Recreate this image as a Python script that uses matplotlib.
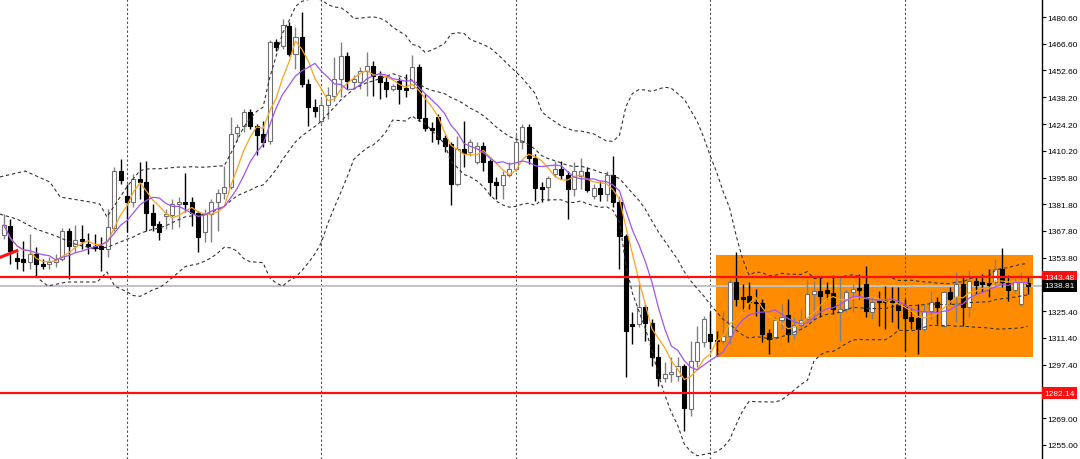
import matplotlib
matplotlib.use("Agg")
import matplotlib.pyplot as plt
import matplotlib.transforms as mtrans
from matplotlib.patches import Rectangle
import numpy as np
import pandas as pd

plt.rcParams['font.family'] = ['Liberation Sans', 'DejaVu Sans']

# candle data
opens = [1365.7, 1370.4, 1353.6, 1353.0, 1351.4, 1355.7, 1350.4, 1350.4, 1351.4, 1353.0,
         1367.8, 1359.9, 1363.6, 1360.9, 1359.9, 1359.9, 1358.3, 1369.4, 1399.4, 1386.2,
         1383.1, 1395.2, 1393.6, 1377.3, 1371.5, 1375.7, 1376.2, 1382.0, 1383.1, 1383.1,
         1377.3, 1367.3, 1376.7, 1383.1, 1387.8, 1391.0, 1419.5, 1423.1, 1430.5, 1423.1,
         1418.9, 1415.2, 1467.4, 1465.3, 1475.9, 1461.1, 1470.1, 1445.3, 1433.2, 1425.8,
         1434.2, 1439.0, 1447.9, 1460.0, 1446.3, 1446.3, 1452.1, 1454.8, 1449.5, 1446.3,
         1442.7, 1446.9, 1443.2, 1443.2, 1454.2, 1427.4, 1422.1, 1427.9, 1416.8, 1413.7,
         1392.6, 1411.0, 1409.4, 1404.2, 1412.6, 1404.7, 1393.6, 1392.1, 1397.3, 1400.5,
         1414.7, 1422.6, 1406.3, 1391.0, 1391.0, 1397.8, 1400.5, 1397.3, 1389.9, 1396.8,
         1398.9, 1386.2, 1390.5, 1387.3, 1397.3, 1383.1, 1365.2, 1318.8, 1318.8, 1327.7,
         1319.3, 1301.4, 1290.3, 1292.4, 1291.3, 1296.6, 1273.9, 1299.2, 1309.3, 1313.5,
         1310.3, 1309.8, 1312.4, 1340.9, 1333.0, 1333.5, 1330.4, 1329.8, 1314.0, 1311.9,
         1320.9, 1323.5, 1313.5, 1318.2, 1321.4, 1334.6, 1336.2, 1336.7, 1335.1, 1325.1,
         1326.7, 1335.6, 1337.7, 1339.9, 1325.1, 1330.9, 1330.9, 1330.9, 1329.3, 1327.7,
         1322.4, 1321.9, 1316.1, 1325.6, 1330.4, 1317.7, 1335.6, 1333.0, 1339.9, 1327.7,
         1341.4, 1340.9, 1340.4, 1340.9, 1347.8, 1340.4, 1336.7, 1329.3, 1340.4]
highs = [1376.7, 1374.1, 1356.7, 1362.5, 1366.2, 1359.3, 1353.0, 1354.1, 1355.7, 1369.4,
         1369.4, 1370.9, 1370.9, 1366.7, 1366.2, 1364.6, 1379.4, 1401.5, 1405.7, 1392.6,
         1397.8, 1404.2, 1404.7, 1382.0, 1373.1, 1379.4, 1384.7, 1385.7, 1398.4, 1385.7,
         1378.3, 1379.4, 1384.7, 1389.9, 1402.1, 1427.9, 1424.2, 1432.1, 1432.1, 1424.2,
         1425.8, 1468.5, 1469.0, 1479.6, 1478.0, 1475.3, 1483.2, 1447.9, 1437.4, 1437.4,
         1443.7, 1459.5, 1467.4, 1462.2, 1450.0, 1454.2, 1462.2, 1457.4, 1452.1, 1449.5,
         1445.3, 1449.0, 1450.6, 1460.6, 1455.8, 1440.0, 1425.2, 1429.5, 1418.4, 1414.7,
         1417.9, 1425.8, 1416.3, 1414.7, 1414.7, 1405.7, 1396.3, 1399.4, 1404.2, 1418.9,
         1424.2, 1424.2, 1408.4, 1393.6, 1396.8, 1404.7, 1404.7, 1399.4, 1404.2, 1406.3,
         1401.5, 1392.6, 1394.2, 1399.4, 1407.3, 1385.7, 1366.2, 1325.1, 1339.9, 1329.3,
         1321.4, 1308.2, 1298.7, 1301.4, 1301.4, 1297.7, 1309.8, 1317.7, 1323.0, 1325.6,
         1315.1, 1325.6, 1342.5, 1356.7, 1339.9, 1340.9, 1337.2, 1331.9, 1316.1, 1322.4,
         1329.3, 1331.9, 1322.4, 1326.7, 1342.5, 1341.4, 1343.5, 1340.9, 1343.5, 1343.5,
         1337.2, 1339.9, 1345.1, 1349.3, 1333.5, 1336.2, 1338.8, 1338.3, 1338.3, 1331.9,
         1326.7, 1329.3, 1329.3, 1336.2, 1333.0, 1336.2, 1338.3, 1346.2, 1344.1, 1347.2,
         1344.1, 1345.1, 1347.8, 1353.0, 1358.8, 1344.6, 1344.1, 1346.2, 1344.1]
lows = [1363.6, 1350.4, 1347.8, 1346.7, 1347.8, 1343.5, 1347.8, 1347.8, 1348.8, 1352.0,
        1342.5, 1356.7, 1358.3, 1355.7, 1357.2, 1346.7, 1354.1, 1367.8, 1392.6, 1367.3,
        1380.5, 1384.7, 1367.8, 1367.8, 1363.0, 1368.8, 1368.8, 1369.9, 1377.8, 1370.4,
        1356.7, 1362.0, 1362.0, 1367.8, 1384.7, 1389.9, 1415.2, 1420.0, 1421.6, 1407.9,
        1412.1, 1413.7, 1462.7, 1463.7, 1460.0, 1453.2, 1443.7, 1423.1, 1427.9, 1424.2,
        1426.8, 1436.3, 1438.4, 1442.7, 1442.7, 1442.7, 1439.0, 1439.0, 1437.4, 1438.4,
        1441.6, 1434.7, 1438.4, 1442.7, 1425.8, 1420.5, 1414.7, 1413.7, 1409.4, 1381.5,
        1391.5, 1401.5, 1407.3, 1403.1, 1399.4, 1386.2, 1384.7, 1384.7, 1396.3, 1399.4,
        1411.0, 1403.1, 1383.6, 1383.1, 1383.6, 1396.3, 1395.2, 1374.1, 1386.2, 1389.9,
        1388.3, 1384.7, 1383.6, 1383.6, 1380.5, 1347.8, 1290.8, 1308.2, 1317.2, 1309.8,
        1296.6, 1286.1, 1288.2, 1288.2, 1288.7, 1262.3, 1270.3, 1296.1, 1306.6, 1305.6,
        1301.9, 1308.2, 1308.2, 1328.3, 1325.6, 1326.7, 1323.0, 1309.3, 1302.9, 1310.8,
        1316.1, 1309.3, 1310.8, 1316.1, 1320.3, 1320.3, 1322.4, 1331.9, 1324.0, 1309.8,
        1325.1, 1325.1, 1331.9, 1322.4, 1321.4, 1317.7, 1316.1, 1319.8, 1316.1, 1304.5,
        1316.1, 1302.9, 1315.1, 1321.4, 1318.8, 1317.2, 1329.3, 1319.8, 1317.7, 1322.4,
        1334.6, 1335.6, 1333.0, 1339.3, 1338.3, 1330.9, 1335.1, 1328.3, 1334.6]
closes = [1370.9, 1357.2, 1352.0, 1351.4, 1355.7, 1350.4, 1349.3, 1351.4, 1353.0, 1367.8,
          1359.9, 1363.0, 1362.5, 1359.9, 1358.8, 1358.3, 1369.9, 1399.4, 1394.7, 1383.1,
          1395.2, 1393.6, 1377.3, 1370.9, 1367.3, 1376.7, 1382.0, 1383.1, 1382.0, 1377.3,
          1364.6, 1376.7, 1383.1, 1387.8, 1391.0, 1418.9, 1422.6, 1430.5, 1423.1, 1418.4,
          1414.7, 1467.4, 1464.8, 1476.4, 1461.1, 1470.1, 1445.3, 1433.2, 1431.1, 1434.2,
          1439.5, 1447.9, 1460.0, 1446.9, 1447.9, 1452.1, 1454.8, 1449.5, 1446.3, 1442.7,
          1444.2, 1442.7, 1442.1, 1454.2, 1427.4, 1422.1, 1421.0, 1416.3, 1412.6, 1392.6,
          1411.0, 1408.9, 1414.7, 1412.6, 1404.2, 1393.6, 1392.1, 1397.3, 1400.5, 1414.7,
          1422.6, 1406.3, 1390.5, 1389.9, 1395.7, 1400.5, 1397.3, 1389.9, 1399.4, 1399.4,
          1389.4, 1390.5, 1387.3, 1397.3, 1383.1, 1365.2, 1315.1, 1317.7, 1327.7, 1319.3,
          1301.4, 1290.3, 1292.4, 1293.4, 1296.6, 1274.5, 1299.2, 1309.3, 1321.4, 1309.8,
          1309.8, 1312.4, 1340.9, 1331.9, 1331.9, 1330.4, 1329.8, 1313.5, 1310.8, 1320.9,
          1322.4, 1313.5, 1318.2, 1320.9, 1334.6, 1336.2, 1333.5, 1335.1, 1326.7, 1326.7,
          1335.6, 1337.2, 1336.7, 1325.6, 1330.4, 1330.4, 1330.4, 1329.8, 1326.1, 1321.9,
          1320.3, 1316.1, 1325.6, 1330.4, 1327.7, 1335.6, 1331.9, 1339.9, 1327.7, 1341.4,
          1339.3, 1339.9, 1339.3, 1347.8, 1340.9, 1336.7, 1340.9, 1340.9, 1338.81]

# band values before the 20-bar window fills
head_up_idx = [-0.6, 3.3, 7.1, 8.7, 13.3, 14.8, 15.9]
head_up_val = [1396.3, 1399.4, 1393.6, 1385.7, 1383.1, 1382.0, 1375.2]
head_mid_idx = [-0.6, 2, 5, 8, 11, 14, 16]
head_mid_val = [1376.7, 1374.1, 1368.8, 1365.2, 1360.9, 1358.3, 1359.3]
head_low_idx = [4.8, 6.8, 9.7, 14.4, 15.9, 17.1]
head_low_val = [1344.1, 1338.8, 1340.9, 1340.9, 1346.2, 1338.8]

separators = [19, 49, 79, 109, 139]
resistance = 1343.48
support = 1282.14
bid = 1338.81
box_idx = [109.9, 158.8]
box_price = [1301.4, 1355.3]
arrow_idx = [-0.6, 2.0]
arrow_price = [1353.9, 1357.4]

ytick_vals = [1480.60, 1466.60, 1452.60, 1438.20, 1424.20, 1410.20, 1395.80, 1381.80,
              1367.80, 1353.80, 1325.40, 1311.40, 1297.40, 1269.00, 1255.00]

o = np.array(opens); h = np.array(highs); l = np.array(lows); c = np.array(closes)
x = np.arange(len(c))
s = pd.Series(c)
ma_fast = s.rolling(5, min_periods=1).mean()
ma_slow = s.rolling(8, min_periods=1).mean()
mid = s.rolling(20).mean()
sd = s.rolling(20).std(ddof=0)
upper = mid + 2 * sd
lower = mid - 2 * sd

fig = plt.figure(figsize=(10.8, 4.6), dpi=100)
ax = fig.add_axes([0, 0, 1042 / 1080, 1])
ax.set_xlim(-0.6, 160.2)
ax.set_ylim(1247.6, 1490.1)

ax.add_patch(Rectangle((box_idx[0], box_price[0]), box_idx[1] - box_idx[0],
                       box_price[1] - box_price[0], color='#ff8c00', lw=0, zorder=0.5))

for sx in separators:
    ax.axvline(sx, color='#505050', lw=0.8, ls=(0, (2, 2)), zorder=1)

ax.axhline(bid, color='#c0c4c8', lw=1.4, zorder=1.5)

# candles
up = c >= o
wick_col = np.where(up, '#808080', 'black')
ax.vlines(x, l, h, colors=wick_col, lw=1.0, zorder=3)
body_low = np.minimum(o, c)
body_h = np.maximum(np.abs(c - o), 0.5)
ax.bar(x[up], body_h[up], bottom=body_low[up], width=0.62, facecolor='white',
       edgecolor='#707070', lw=0.8, zorder=4)
ax.bar(x[~up], body_h[~up], bottom=body_low[~up], width=0.62, facecolor='black',
       edgecolor='black', lw=0.8, zorder=4)

# bollinger bands
dash = (0, (3, 2.5))
for hi, hv, ser in [(head_up_idx, head_up_val, upper),
                    (head_mid_idx, head_mid_val, mid),
                    (head_low_idx, head_low_val, lower)]:
    xx = list(hi) + list(x[19:])
    yy = list(hv) + list(ser.values[19:])
    ax.plot(xx, yy, color='#333333', lw=0.8, ls=dash, zorder=5)

ax.plot(x, ma_fast, color='#ffa21f', lw=0.9, zorder=6)
ax.plot(x, ma_slow, color='#a055f5', lw=0.9, zorder=6)

ax.axhline(resistance, color='#ff1010', lw=1.6, zorder=7)
ax.axhline(support, color='#ff1010', lw=1.6, zorder=7)
ax.plot(arrow_idx, arrow_price, color='#ff1010', lw=2.2, zorder=7)

for sp in ['top', 'left', 'bottom']:
    ax.spines[sp].set_visible(False)
ax.spines['right'].set_color('black')
ax.spines['right'].set_linewidth(1.0)
ax.set_xticks([])
ax.yaxis.tick_right()
ax.set_yticks(ytick_vals)
ax.set_yticklabels(['%.2f' % v for v in ytick_vals])
ax.tick_params(axis='y', length=3, width=0.8, pad=1.2, labelsize=6.0, colors='black')

trans = mtrans.blended_transform_factory(ax.transAxes, ax.transData)
for val, fc in [(resistance, '#ff1010'), (bid, 'black'), (support, '#ff1010')]:
    ax.text(1.002, val, '%.2f' % val, transform=trans, ha='left', va='center',
            fontsize=6.0, color='white', zorder=10,
            bbox=dict(boxstyle='square,pad=0.3', fc=fc, ec='none'))

fig.savefig('out.png', dpi=100)
